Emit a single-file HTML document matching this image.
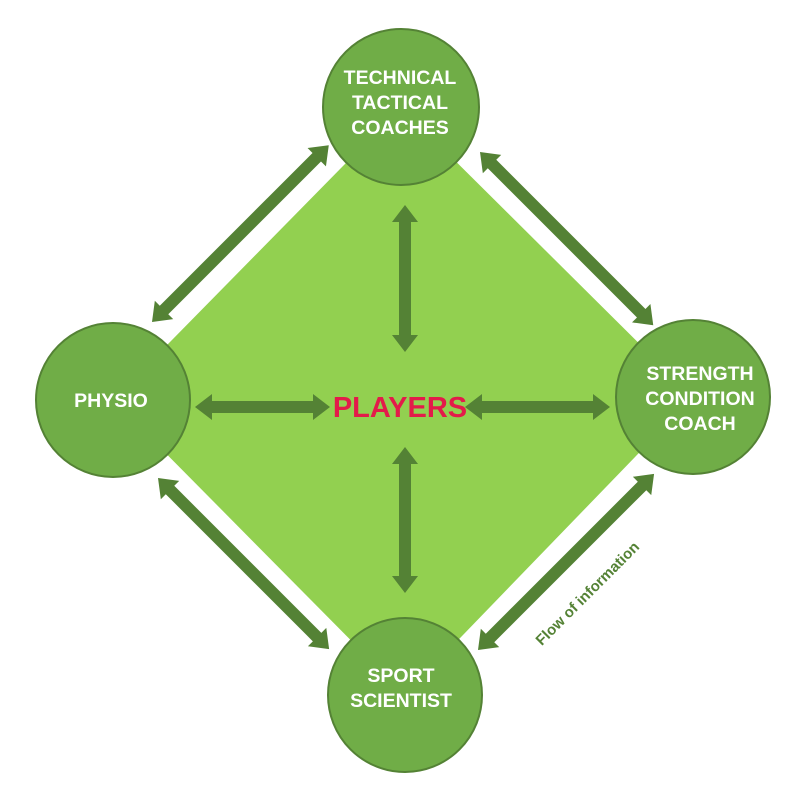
<!DOCTYPE html>
<html><head><meta charset="utf-8"><style>
html,body{margin:0;padding:0;background:#fff;}
svg{display:block;}
.t{font-family:"Liberation Sans",Arial,sans-serif;font-weight:bold;fill:#fff;font-size:19.5px;text-anchor:middle;}
</style></head><body>
<svg width="800" height="785" viewBox="0 0 800 785">
<polygon points="401,107 693,397 405,695 113,400" fill="#92d050"/>
<g fill="#548235">
<g transform="translate(152,322) rotate(-45)"><polygon points="0,0 17,-13 17,-6 233,-6 233,-13 250,0 233,13 233,6 17,6 17,13"/></g>
<g transform="translate(480,152) rotate(45)"><polygon points="0,0 17,-13 17,-6 228,-6 228,-13 245,0 228,13 228,6 17,6 17,13"/></g>
<g transform="translate(158,478) rotate(45)"><polygon points="0,0 17,-13 17,-6 225,-6 225,-13 242,0 225,13 225,6 17,6 17,13"/></g>
<g transform="translate(478,650) rotate(-45)"><polygon points="0,0 17,-13 17,-6 232,-6 232,-13 249,0 232,13 232,6 17,6 17,13"/></g>
<g transform="translate(405,205) rotate(90)"><polygon points="0,0 17,-13 17,-6 130,-6 130,-13 147,0 130,13 130,6 17,6 17,13"/></g>
<g transform="translate(405,447) rotate(90)"><polygon points="0,0 17,-13 17,-6 129,-6 129,-13 146,0 129,13 129,6 17,6 17,13"/></g>
<g transform="translate(195,407)"><polygon points="0,0 17,-13 17,-6 118,-6 118,-13 135,0 118,13 118,6 17,6 17,13"/></g>
<g transform="translate(465,407)"><polygon points="0,0 17,-13 17,-6 128,-6 128,-13 145,0 128,13 128,6 17,6 17,13"/></g>
</g>
<g fill="#70ad47" stroke="#548235" stroke-width="2">
<circle cx="401" cy="107" r="78"/>
<circle cx="113" cy="400" r="77"/>
<circle cx="693" cy="397" r="77"/>
<circle cx="405" cy="695" r="77"/>
</g>
<text class="t" x="400" y="84">TECHNICAL</text>
<text class="t" x="400" y="109">TACTICAL</text>
<text class="t" x="400" y="134">COACHES</text>
<text class="t" x="111" y="407">PHYSIO</text>
<text class="t" x="700" y="380">STRENGTH</text>
<text class="t" x="700" y="405">CONDITION</text>
<text class="t" x="700" y="430">COACH</text>
<text class="t" x="401" y="682">SPORT</text>
<text class="t" x="401" y="707">SCIENTIST</text>
<text x="400" y="417" font-family="Liberation Sans,Arial,sans-serif" font-weight="bold" font-size="29" fill="#e31b4a" text-anchor="middle">PLAYERS</text>
<text transform="translate(591,597) rotate(-45)" font-family="Liberation Sans,Arial,sans-serif" font-weight="bold" font-size="15" fill="#548235" text-anchor="middle">Flow of information</text>
</svg>
</body></html>
